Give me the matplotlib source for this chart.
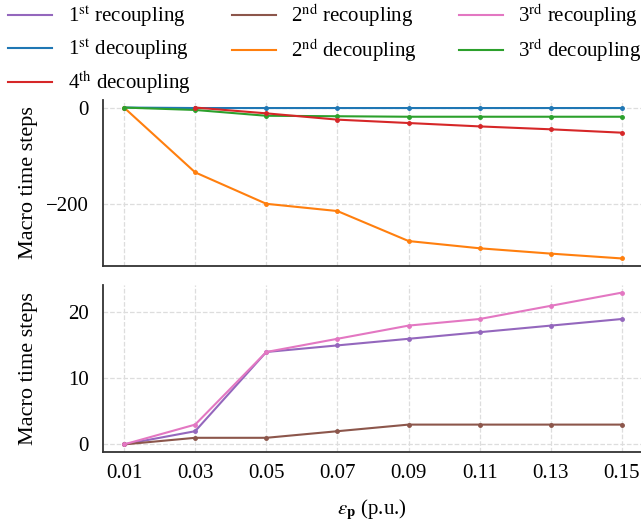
import matplotlib
matplotlib.use("Agg")
import matplotlib.pyplot as plt
from matplotlib.lines import Line2D
import numpy as np

plt.rcParams['font.family'] = ['Liberation Serif', 'DejaVu Serif']
plt.rcParams['mathtext.fontset'] = 'stix'

x = [0.01, 0.03, 0.05, 0.07, 0.09, 0.11, 0.13, 0.15]
xticklabels = ["0.01", "0.03", "0.05", "0.07", "0.09", "0.11", "0.13", "0.15"]

# top panel (decoupling)
dec1 = [0, -1, -1, -1, -1, -1, -1, -1]
dec2 = [0, -134, -199, -214, -276, -291, -302, -312]
dec3 = [0, -5, -17, -18, -19, -19, -19, -19]
dec4 = [np.nan, 0, -12, -25, -32, -39, -45, -52]

# bottom panel (recoupling)
rec1 = [0, 2, 14, 15, 16, 17, 18, 19]
rec2 = [0, 1, 1, 2, 3, 3, 3, 3]
rec3 = [0, 3, 14, 16, 18, 19, 21, 23]

W, H = 641, 521
fig = plt.figure(figsize=(W / 100, H / 100), dpi=100)
left, right = 103 / W, 641 / W
ax1 = fig.add_axes([left, 1 - 266 / H, right - left, (266 - 100) / H])
ax2 = fig.add_axes([left, 1 - 452 / H, right - left, (452 - 285) / H])

kw = dict(marker='o', markersize=2.5, linewidth=1.5)
series = [
    (ax2, rec1, 'tab:purple', r'1$^{\mathrm{st}}$ recoupling'),
    (ax2, rec2, 'tab:brown', r'2$^{\mathrm{nd}}$ recoupling'),
    (ax2, rec3, 'tab:pink', r'3$^{\mathrm{rd}}$ recoupling'),
    (ax1, dec1, 'tab:blue', r'1$^{\mathrm{st}}$ decoupling'),
    (ax1, dec2, 'tab:orange', r'2$^{\mathrm{nd}}$ decoupling'),
    (ax1, dec3, 'tab:green', r'3$^{\mathrm{rd}}$ decoupling'),
    (ax1, dec4, 'tab:red', r'4$^{\mathrm{th}}$ decoupling'),
]
handles = {}
for ax, vals, col, lab in series:
    ax.plot(x, vals, color=col, **kw)
    handles[lab] = Line2D([], [], color=col, linewidth=1.5, label=lab)

xl = (0.01 - 21 / 3557, 0.15 + 19 / 3557)
for ax in (ax1, ax2):
    ax.set_xlim(*xl)
    ax.set_xticks(x)
    ax.grid(True, linestyle='--', color='#dddddd', linewidth=0.9)
    ax.set_axisbelow(True)
    for s in ('top', 'right'):
        ax.spines[s].set_visible(False)
    for s in ('left', 'bottom'):
        ax.spines[s].set_color('#333333')
        ax.spines[s].set_linewidth(1.3)
    ax.tick_params(length=0, labelsize=15)
    ax.tick_params(axis='y', pad=10)
    ax.tick_params(axis='x', pad=9)
    ax.set_ylabel('Macro time steps', fontsize=16)
    ax.yaxis.set_label_coords(-0.12, 0.5)

ax1.set_xticklabels([])
ax1.set_yticks([0, -200])
ax2.set_xticklabels(xticklabels)
ax2.set_yticks([0, 10, 20])
ax2.set_xlabel(r'$\varepsilon_{\mathbf{p}}$ (p.u.)', fontsize=15, labelpad=10)

order = [r'1$^{\mathrm{st}}$ recoupling', r'1$^{\mathrm{st}}$ decoupling', r'4$^{\mathrm{th}}$ decoupling',
         r'2$^{\mathrm{nd}}$ recoupling', r'2$^{\mathrm{nd}}$ decoupling',
         r'3$^{\mathrm{rd}}$ recoupling', r'3$^{\mathrm{rd}}$ decoupling']
hs = [handles[k] for k in order]
fig.legend(handles=hs, labels=order, ncol=3,
           loc='upper left', bbox_to_anchor=(0.0, 1.012), frameon=False,
           fontsize=15, handlelength=2.1, columnspacing=2.0, labelspacing=0.35,
           handletextpad=0.75, borderaxespad=0.0)

fig.savefig('out.png', dpi=100)
